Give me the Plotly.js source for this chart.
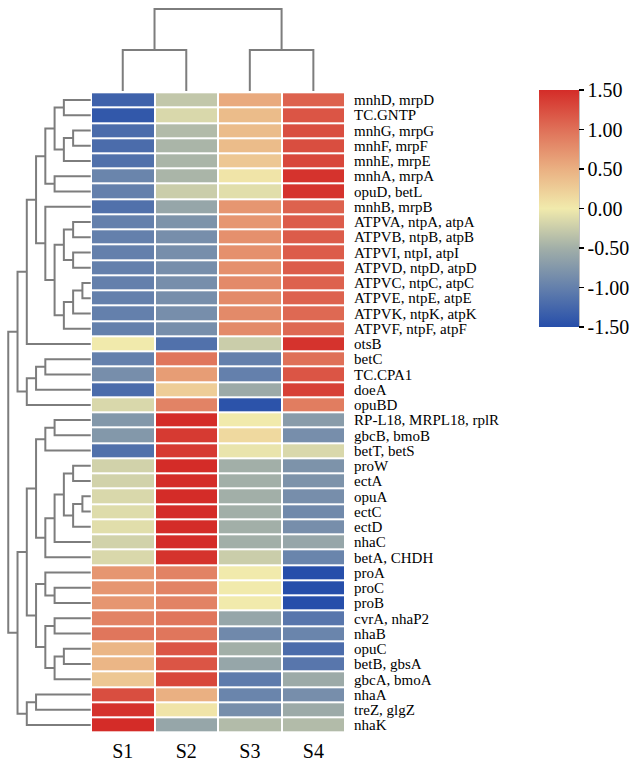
<!DOCTYPE html>
<html>
<head>
<meta charset="utf-8">
<script src="https://cdn.plot.ly/plotly-3.0.1.min.js"></script>
<style>
  html, body { margin: 0; padding: 0; background: #fff; }
  #chart { width: 630px; height: 763px; }
</style>
</head>
<body>
<div id="chart"></div>
<script>
// Sample (column) labels, in dendrogram leaf order
const samples = ['S1', 'S2', 'S3', 'S4'];

// Gene (row) labels, in dendrogram leaf order, top to bottom
const genes = [
  'mnhD, mrpD', 'TC.GNTP', 'mnhG, mrpG', 'mnhF, mrpF', 'mnhE, mrpE',
  'mnhA, mrpA', 'opuD, betL', 'mnhB, mrpB', 'ATPVA, ntpA, atpA',
  'ATPVB, ntpB, atpB', 'ATPVI, ntpI, atpI', 'ATPVD, ntpD, atpD',
  'ATPVC, ntpC, atpC', 'ATPVE, ntpE, atpE', 'ATPVK, ntpK, atpK',
  'ATPVF, ntpF, atpF', 'otsB', 'betC', 'TC.CPA1', 'doeA', 'opuBD',
  'RP-L18, MRPL18, rplR', 'gbcB, bmoB', 'betT, betS', 'proW', 'ectA',
  'opuA', 'ectC', 'ectD', 'nhaC', 'betA, CHDH', 'proA', 'proC', 'proB',
  'cvrA, nhaP2', 'nhaB', 'opuC', 'betB, gbsA', 'gbcA, bmoA', 'nhaA',
  'treZ, glgZ', 'nhaK'
];

// Row-scaled expression (z-score) per sample
const valS1 = [
  -1.30, -1.40, -1.20, -1.20, -1.15, -0.95, -1.00, -1.15, -1.00, -1.00,
  -1.00, -1.00, -1.00, -1.00, -1.00, -1.00,  0.00, -1.00, -0.85, -1.20,
  -0.15, -0.75, -0.75, -1.15, -0.20, -0.20, -0.15, -0.12, -0.10, -0.20,
  -0.15,  0.70,  0.70,  0.70,  0.85,  0.95,  0.45,  0.45,  0.30,  1.25,
   1.45,  1.50
];
const valS2 = [
  -0.30, -0.15, -0.40, -0.45, -0.45, -0.45, -0.25, -0.60, -0.80, -0.85,
  -0.85, -0.85, -0.85, -0.85, -0.85, -0.85, -1.15,  0.95,  0.65,  0.25,
   0.85,  1.50,  1.40,  1.40,  1.50,  1.50,  1.50,  1.50,  1.50,  1.50,
   1.45,  0.85,  0.85,  0.85,  0.95,  0.95,  1.20,  1.20,  1.30,  0.50,
   0.05, -0.60
];
const valS3 = [
   0.55,  0.40,  0.40,  0.40,  0.30,  0.05, -0.10,  0.70,  0.70,  0.75,
   0.75,  0.75,  0.80,  0.80,  0.80,  0.80, -0.25, -1.00, -1.00, -0.55,
  -1.45,  0.00,  0.15, -0.05, -0.50, -0.50, -0.50, -0.50, -0.50, -0.50,
  -0.25,  0.00,  0.00,  0.00, -0.60, -0.90, -0.50, -0.60, -1.05, -0.95,
  -0.85, -0.40
];
const valS4 = [
   1.10,  1.20,  1.25,  1.25,  1.30,  1.45,  1.45,  1.10,  1.15,  1.15,
   1.15,  1.15,  1.10,  1.10,  1.05,  1.05,  1.45,  1.00,  1.20,  1.35,
   0.90, -0.70, -0.85, -0.15, -0.80, -0.80, -0.85, -0.90, -0.85, -0.60,
  -0.95, -1.50, -1.50, -1.50, -1.10, -0.95, -1.20, -1.10, -0.55, -0.85,
  -0.55, -0.40
];

// Row linkage: node ids 0..41 are genes, merge k creates node 42+k
const rowLeft   = [0, 2, 43, 42, 5, 45, 8, 10, 48, 12, 51, 52, 50, 7, 47, 56, 17, 58, 59, 57,
                   21, 62, 24, 26, 65, 64, 67, 68, 63, 32, 31, 34, 36, 74, 73, 72, 70, 39, 79, 78, 61];
const rowRight  = [1, 3, 4, 44, 6, 46, 9, 11, 49, 13, 14, 15, 53, 54, 55, 16, 18, 19, 20, 60,
                   22, 23, 25, 27, 28, 66, 29, 30, 69, 33, 71, 35, 37, 38, 75, 76, 77, 40, 41, 80, 81];
const rowHeight = [3, 2, 3, 4, 4, 5, 2, 2, 3, 1, 2, 3, 4, 5, 6, 7, 5, 6, 7, 8,
                   4, 5, 2, 1, 2, 3, 4, 5, 6, 4, 5, 4, 3, 4, 5, 6, 7, 6, 7, 8, 9];

// Column linkage: node ids 0..3 are samples, merge k creates node 4+k
const colLeft   = [0, 2, 4];
const colRight  = [1, 3, 5];
const colHeight = [1, 1, 2];

// Build dendrogram elbow segments from a linkage; returns [heights, positions]
function dendroSegments(nLeaves, left, right, height, leafEnd) {
  const pos = [], hgt = [];
  for (let i = 0; i < nLeaves; i++) { pos.push(i); hgt.push(leafEnd); }
  const H = [], P = [];
  for (let k = 0; k < left.length; k++) {
    const a = left[k], b = right[k], h = height[k];
    H.push(hgt[a], h, h, hgt[b], null);
    P.push(pos[a], pos[a], pos[b], pos[b], null);
    pos.push((pos[a] + pos[b]) / 2);
    hgt.push(h);
  }
  return [H, P];
}

const z = genes.map((g, i) => [valS1[i], valS2[i], valS3[i], valS4[i]]);

const W = 630, Hpx = 763;
const px = v => v / W;           // horizontal pixel -> paper
const py = v => 1 - v / Hpx;     // vertical pixel (from top) -> paper

const serif = '"Liberation Serif", "Times New Roman", Times, serif';
const lineColor = '#7d7d7d';

const colorscale = [
  [0.0,    'rgb(38,78,170)'],
  [0.1667, 'rgb(100,128,172)'],
  [0.3333, 'rgb(162,175,168)'],
  [0.5,    'rgb(241,234,172)'],
  [0.6667, 'rgb(234,176,130)'],
  [0.8333, 'rgb(223,112,88)'],
  [1.0,    'rgb(212,44,40)']
];

const cbTicks = [-1.5, -1.0, -0.5, 0, 0.5, 1.0, 1.5];
const cbText  = ['-1.50', '-1.00', '-0.50', '0.00', '0.50', '1.00', '1.50'];

const heat = {
  type: 'heatmap',
  z: z,
  x: samples.map((s, i) => i),
  y: genes.map((g, i) => i),
  zmin: -1.5, zmax: 1.5,
  colorscale: colorscale,
  xgap: 2, ygap: 2,
  hoverinfo: 'skip',
  xaxis: 'x', yaxis: 'y',
  colorbar: {
    x: px(545), xanchor: 'left',
    y: py(208.5), yanchor: 'middle',
    len: 237 / Hpx, lenmode: 'fraction',
    thickness: 40, thicknessmode: 'pixels',
    xpad: 0, ypad: 0,
    outlinewidth: 0,
    tickmode: 'array', tickvals: cbTicks, ticktext: cbText,
    ticks: 'outside', ticklen: 5, tickwidth: 1.5, tickcolor: '#000',
    tickfont: { family: serif, size: 20, color: '#000' }
  }
};

const [colH, colP] = dendroSegments(samples.length, colLeft, colRight, colHeight, 0);
const topTree = {
  type: 'scatter', mode: 'lines',
  x: colP, y: colH,
  xaxis: 'x2', yaxis: 'y2',
  line: { color: lineColor, width: 2 },
  hoverinfo: 'skip', showlegend: false
};

const [rowH, rowP] = dendroSegments(genes.length, rowLeft, rowRight, rowHeight, 0.1);
const leftTree = {
  type: 'scatter', mode: 'lines',
  x: rowH, y: rowP,
  xaxis: 'x3', yaxis: 'y3',
  line: { color: lineColor, width: 2 },
  hoverinfo: 'skip', showlegend: false
};

const heatX = [px(92), px(349)];
const heatY = [py(732.7), py(92.3)];
const rowRange = [genes.length - 0.5, -0.5];
const hidden = { visible: false, showgrid: false, zeroline: false, fixedrange: true };

const layout = {
  width: W, height: Hpx,
  margin: { l: 0, r: 0, t: 0, b: 0 },
  paper_bgcolor: '#fff', plot_bgcolor: '#fff',
  showlegend: false,
  font: { family: serif, color: '#000' },
  xaxis: {
    domain: heatX, anchor: 'y', range: [-0.5, samples.length - 0.5],
    tickmode: 'array', tickvals: samples.map((s, i) => i), ticktext: samples,
    ticks: '', showgrid: false, zeroline: false, showline: false,
    tickfont: { family: serif, size: 20, color: '#000' },
    ticklabelstandoff: 4
  },
  yaxis: {
    domain: heatY, anchor: 'x', side: 'right', range: rowRange,
    tickmode: 'array', tickvals: genes.map((g, i) => i), ticktext: genes,
    ticks: '', showgrid: false, zeroline: false, showline: false,
    tickfont: { family: serif, size: 15, color: '#000' },
    ticklabelstandoff: 8
  },
  xaxis2: Object.assign({ domain: heatX, anchor: 'y2', range: [-0.5, samples.length - 0.5] }, hidden),
  yaxis2: Object.assign({ domain: [py(91), py(7)], anchor: 'x2', range: [0, 2.05] }, hidden),
  xaxis3: Object.assign({ domain: [0, px(92.7)], anchor: 'y3', range: [9.89, 0] }, hidden),
  yaxis3: Object.assign({ domain: heatY, anchor: 'x3', range: rowRange }, hidden),
  shapes: [{
    type: 'line', xref: 'paper', yref: 'paper',
    x0: px(585), x1: px(585), y0: py(327), y1: py(90),
    line: { color: '#000', width: 1.5 }
  }]
};

Plotly.newPlot('chart', [heat, topTree, leftTree], layout, { displayModeBar: false, staticPlot: true });
</script>
</body>
</html>
